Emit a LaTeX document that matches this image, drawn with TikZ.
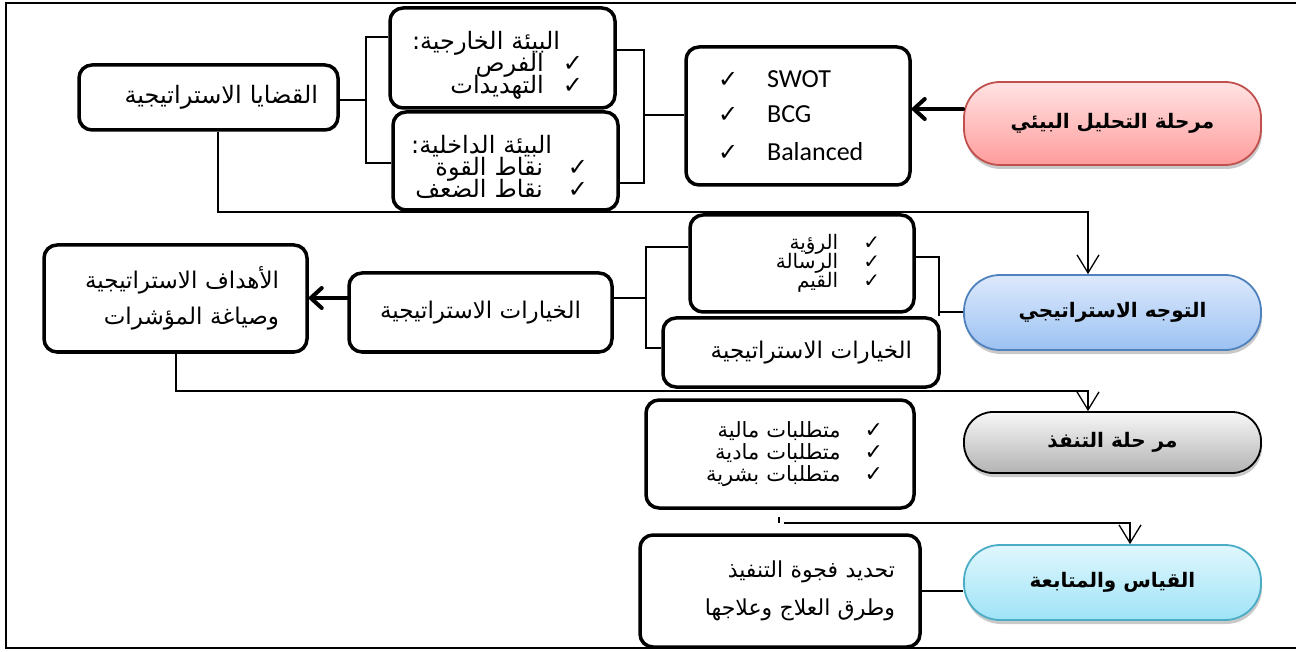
\documentclass[tikz,border=0pt]{standalone}
\usepackage{fontspec}
\setmainfont{DejaVu Sans}
\newfontfamily\arabicfont[Script=Arabic]{DejaVu Sans}
\newfontfamily\latinfont{Carlito}
\TeXXeTstate=1
\usetikzlibrary{arrows.meta,shadows,calc}
\newcommand\RL[1]{\beginR #1\endR}
\newcommand\RLp[2]{\beginR\hspace*{#1}#2\endR}
\newcommand\ck{{\fontsize{24}{20}\selectfont ✓}}
\newcommand\ckm{{\fontsize{22}{18}\selectfont ✓}}
\newcommand\cks{{\fontsize{20}{18}\selectfont ✓}}
\newcommand\afont[2]{\arabicfont\fontsize{#1}{#2}\selectfont\lineskiplimit=-100pt\relax}
\definecolor{redbd}{HTML}{C0504D}
\definecolor{redtop}{HTML}{FFE3E3}
\definecolor{redbot}{HTML}{FF9C9C}
\definecolor{bluebd}{HTML}{4F81BD}
\definecolor{bluetop}{HTML}{DDE9FC}
\definecolor{bluebot}{HTML}{9CC2F2}
\definecolor{graytop}{HTML}{F7F7F7}
\definecolor{graybot}{HTML}{B3B3B3}
\definecolor{cyanbd}{HTML}{4BACC6}
\definecolor{cyantop}{HTML}{E0F7FD}
\definecolor{cyanbot}{HTML}{9FE3F7}
\tikzset{
  box/.style={draw=black, line width=3.5pt, rounded corners=13pt, fill=white, inner sep=0pt,
    font=\afont{24}{22}},
  pill/.style={line width=1.8pt, rounded corners=36pt, inner sep=0pt,
    minimum width=297pt, font=\arabicfont\fontsize{20}{22}\selectfont\bfseries,
    drop shadow={shadow xshift=1pt, shadow yshift=-4pt, opacity=0.3, fill=black!70}},
  conn/.style={line width=1.3pt, draw=black},
  downarr/.style={conn, -{Straight Barb[length=18pt,width=22pt]}},
  thickarr/.style={line width=4pt, line cap=round, -{Straight Barb[length=11pt,width=20pt,round]}},
}
\begin{document}
\begin{tikzpicture}[x=1pt,y=-1pt]
\useasboundingbox (0,0) rectangle (1296,652);
% frame
\draw[line width=2.6pt] (1296,3) -- (6,3);
\draw[line width=2pt] (6,2) -- (6,648) -- (1296,648);

% pills
\node[pill, draw=redbd, top color=redtop, bottom color=redbot, minimum height=83pt] (red) at (1112.5,123.5) {\RL{مرحلة التحليل البيئي}};
\node[pill, draw=bluebd, top color=bluetop, bottom color=bluebot, minimum height=75pt] (blue) at (1112.5,312.5) {\RL{التوجه الاستراتيجي}};
\node[pill, draw=black, top color=graytop, bottom color=graybot, minimum height=61pt, rounded corners=29pt] (gray) at (1112.5,442.5) {\RL{مر حلة التنفذ}};
\node[pill, draw=cyanbd, top color=cyantop, bottom color=cyanbot, minimum height=75pt] (cyan) at (1112.5,582.5) {\RL{القياس والمتابعة}};

% boxes row 1
\node[box, minimum width=259pt, minimum height=65pt, text width=239pt, align=right] (issues) at (208.5,97.5) {\RLp{10pt}{القضايا الاستراتيجية}};
\node[box, minimum width=225pt, minimum height=100pt, text width=205pt, align=right] (extEnv) at (502.5,58)
  {\RLp{45pt}{\rule{0pt}{32pt}البيئة الخارجية:}\\ \RLp{22pt}{\ck\hspace{19pt}الفرص}\\ \RLp{22pt}{\ck\hspace{19pt}التهديدات}};
\node[box, minimum width=225pt, minimum height=98pt, text width=205pt, align=right] (intEnv) at (505.5,161)
  {\RLp{56pt}{\rule{0pt}{30pt}البيئة الداخلية:}\\ \RLp{20pt}{\ck\hspace{25pt}نقاط القوة}\\ \RLp{20pt}{\ck\hspace{25pt}نقاط الضعف}};
\node[box, minimum width=224pt, minimum height=138pt, text width=160pt, align=left] (swot) at (798,116)
  {\ck\hspace{29pt}{\latinfont\fontsize{26}{30}\selectfont SWOT}\\[13pt]
   \ck\hspace{29pt}{\latinfont\fontsize{26}{30}\selectfont BCG}\\[16pt]
   \ck\hspace{29pt}{\latinfont\fontsize{26}{30}\selectfont Balanced}};

% boxes row 2
\node[box, minimum width=263pt, minimum height=107pt, text width=207pt, align=right, font=\afont{23}{36}] (goals) at (175.5,298.5)
  {\RL{الأهداف الاستراتيجية}\\ \RL{وصياغة المؤشرات}};
\node[box, minimum width=263pt, minimum height=79pt, font=\afont{23}{24}] (opts1) at (480.5,312.5) {\RL{الخيارات الاستراتيجية}};
\node[box, minimum width=224pt, minimum height=97pt, text width=156pt, align=right, font=\afont{20}{19}] (vision) at (802,263.5)
  {\RL{\cks\hspace{25pt}الرؤية}\\ \RL{\cks\hspace{25pt}الرسالة}\\ \RL{\cks\hspace{25pt}القيم}};
\node[box, minimum width=276pt, minimum height=69pt, text width=222pt, align=right, font=\afont{23}{24}] (opts2) at (801,352.5) {\RL{الخيارات الاستراتيجية}};

% boxes row 3/4
\node[box, minimum width=268pt, minimum height=108pt, text width=210pt, align=right, font=\afont{21}{22}] (req) at (780,454)
  {\RLp{2pt}{\ckm\hspace{24pt}متطلبات مالية}\\ \RLp{2pt}{\ckm\hspace{24pt}متطلبات مادية}\\ \RLp{2pt}{\ckm\hspace{24pt}متطلبات بشرية}};
\node[box, minimum width=280pt, minimum height=112pt, text width=230pt, align=right, font=\afont{22}{38}] (gap) at (780,591)
  {\RL{تحديد فجوة التنفيذ}\\ \RL{وطرق العلاج وعلاجها}};

% coordinates
\coordinate (bL) at (366,100);
\coordinate (bLt) at (366,37);
\coordinate (bLb) at (366,163);
\coordinate (bRt) at (644,50);
\coordinate (bRb) at (644,183);
\coordinate (bRm) at (644,115);
\coordinate (aR) at (960,109);
\coordinate (p1) at (218,212);
\coordinate (p2) at (1088,212);
\coordinate (aG) at (330,298);
\coordinate (b2t) at (646,247);
\coordinate (b2b) at (646,348);
\coordinate (b3t) at (939,257);
\coordinate (b3b) at (939,312);
\coordinate (p3) at (176,391);
\coordinate (p4) at (1088,391);
\coordinate (t1) at (779,517);
\coordinate (t2) at (779,523);
\coordinate (p5) at (784,523);
\coordinate (p6) at (1130,523);

% connectors
\draw[conn] (issues.east |- bL) -- (bL);
\draw[conn] (extEnv.west |- bLt) -- (bLt) -- (bLb) -- (intEnv.west |- bLb);
\draw[conn] (extEnv.east |- bRt) -- (bRt) -- (bRb) -- (intEnv.east |- bRb);
\draw[conn] (bRm) -- (swot.west |- bRm);
\draw[thickarr] (red.west |- aR) -- (swot.east |- aR);
\draw[downarr] (issues.south -| p1) -- (p1) -- (p2) -- (blue.north -| p2);
\draw[thickarr] (opts1.west |- aG) -- (goals.east |- aG);
\draw[conn] (opts1.east |- aG) -- (b2t |- aG);
\draw[conn] (vision.west |- b2t) -- (b2t) -- (b2b) -- (opts2.west |- b2b);
\draw[conn] (vision.east |- b3t) -- (b3t) -- (opts2.north -| b3t);
\draw[conn] (b3b) -- (blue.west |- b3b);
\draw[downarr] (goals.south -| p3) -- (p3) -- (p4) -- (gray.north -| p4);
\draw[conn] (t1) -- (t2);
\draw[downarr] (p5) -- (p6) -- (cyan.north -| p6);
\draw[conn] (gap.east) -- (cyan.west |- gap.east);
\end{tikzpicture}
\end{document}
